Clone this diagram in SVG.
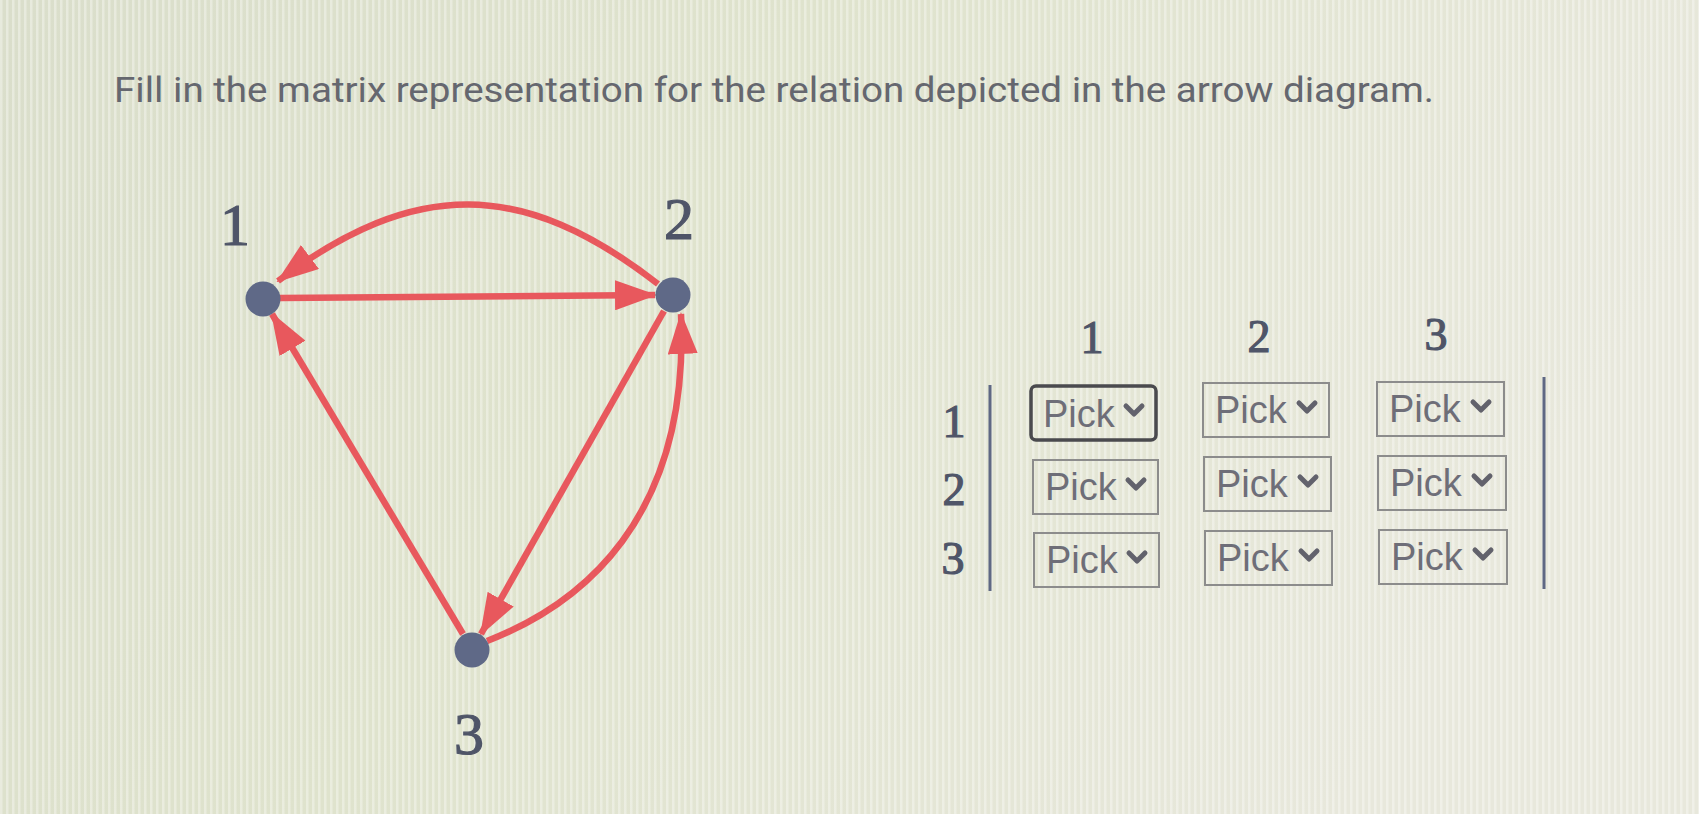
<svg xmlns="http://www.w3.org/2000/svg" width="1699" height="814" viewBox="0 0 1699 814">
  <defs>
    <linearGradient id="bg" x1="0" y1="0" x2="1" y2="0.3">
      <stop offset="0" stop-color="#dadecb"/>
      <stop offset="0.45" stop-color="#dfe3cd"/>
      <stop offset="1" stop-color="#e8e8dc"/>
    </linearGradient>
    <pattern id="stripes" width="6" height="10" patternUnits="userSpaceOnUse">
      <rect x="0" y="0" width="2.5" height="10" fill="#ffffff" opacity="0.35"/>
    </pattern>
    <marker id="arrow" markerUnits="userSpaceOnUse" markerWidth="42" markerHeight="30" viewBox="0 0 42 30" refX="40" refY="15" orient="auto">
      <path d="M0,0 L42,15 L0,30 Z" fill="#e8585d"/>
    </marker>
  </defs>
  <style>
    .title { font-family: Roboto, "Liberation Sans", sans-serif; font-size: 35px; fill: #65676f; }
    .lbl { font-family: "Liberation Serif", "DejaVu Serif", serif; fill: #4f5568; stroke: #4f5568; stroke-width: 1.2; text-anchor: middle; }
    .node { fill: #5f6987; }
    .edge { fill: none; stroke: #e8585d; stroke-width: 6.5; marker-end: url(#arrow); }
    .box { fill: none; stroke: #8c8c8c; stroke-width: 2; }
    .box.focus { stroke: #4a4a4e; stroke-width: 3.5; }
    .pick { font-family: "Liberation Sans", Arial, sans-serif; font-size: 38px; fill: #6e6e78; }
    .chev { fill: none; stroke: #62626c; stroke-width: 5; stroke-linecap: round; stroke-linejoin: round; }
    .bar { stroke: #5f6884; stroke-width: 3; }
  </style>

  <rect width="1699" height="814" fill="url(#bg)"/>
  <rect width="1699" height="814" fill="url(#stripes)"/>

  <text class="title" x="114" y="102" textLength="1320" lengthAdjust="spacingAndGlyphs">Fill in the matrix representation for the relation depicted in the arrow diagram.</text>

  <g id="connectors">
    <line class="edge" x1="280" y1="298" x2="655" y2="295" stroke-width="8"/>
    <path class="edge" d="M658,284 C523,179 415,178 278,281"/>
    <line class="edge" x1="664" y1="311" x2="481" y2="634"/>
    <line class="edge" x1="463" y1="634" x2="272" y2="314"/>
    <path class="edge" d="M487,641 C580,605 690,520 681,314"/>
  </g>

  <g id="node-1">
    <circle class="node" cx="263" cy="299" r="17.5"/>
    <text class="lbl" x="235" y="245" font-size="60">1</text>
  </g>
  <g id="node-2">
    <circle class="node" cx="673" cy="295" r="17.5"/>
    <text class="lbl" x="679" y="239" font-size="60">2</text>
  </g>
  <g id="node-3">
    <circle class="node" cx="472" cy="650" r="17.5"/>
    <text class="lbl" x="469" y="754" font-size="60">3</text>
  </g>

  <g id="matrix">
    <text class="lbl" x="1092" y="353" font-size="46">1</text>
    <text class="lbl" x="1259" y="352" font-size="46">2</text>
    <text class="lbl" x="1436" y="350" font-size="46">3</text>
    <text class="lbl" x="954" y="437" font-size="46">1</text>
    <text class="lbl" x="954" y="505" font-size="46">2</text>
    <text class="lbl" x="953" y="574" font-size="46">3</text>
    <line class="bar" x1="990" y1="385" x2="990" y2="591" stroke-width="2.5"/>
    <line class="bar" x1="1544" y1="377" x2="1544" y2="589"/>

    <g id="cell-1-1">
      <rect class="box focus" x="1031" y="386" width="125" height="54" rx="5"/>
      <text class="pick" x="1043" y="427">Pick</text>
      <path class="chev" d="M1126,406 L1134,414 L1142,406"/>
    </g>
    <g id="cell-1-2">
      <rect class="box" x="1203" y="383" width="126" height="54"/>
      <text class="pick" x="1215" y="423">Pick</text>
      <path class="chev" d="M1299,403 L1307,411 L1315,403"/>
    </g>
    <g id="cell-1-3">
      <rect class="box" x="1377" y="382" width="127" height="54"/>
      <text class="pick" x="1389" y="422">Pick</text>
      <path class="chev" d="M1473,402 L1481,410 L1489,402"/>
    </g>
    <g id="cell-2-1">
      <rect class="box" x="1033" y="460" width="125" height="54"/>
      <text class="pick" x="1045" y="500">Pick</text>
      <path class="chev" d="M1128,480 L1136,488 L1144,480"/>
    </g>
    <g id="cell-2-2">
      <rect class="box" x="1204" y="457" width="127" height="54"/>
      <text class="pick" x="1216" y="497">Pick</text>
      <path class="chev" d="M1300,477 L1308,485 L1316,477"/>
    </g>
    <g id="cell-2-3">
      <rect class="box" x="1378" y="456" width="128" height="54"/>
      <text class="pick" x="1390" y="496">Pick</text>
      <path class="chev" d="M1474,476 L1482,484 L1490,476"/>
    </g>
    <g id="cell-3-1">
      <rect class="box" x="1034" y="533" width="125" height="54"/>
      <text class="pick" x="1046" y="573">Pick</text>
      <path class="chev" d="M1129,553 L1137,561 L1145,553"/>
    </g>
    <g id="cell-3-2">
      <rect class="box" x="1205" y="531" width="127" height="54"/>
      <text class="pick" x="1217" y="571">Pick</text>
      <path class="chev" d="M1301,551 L1309,559 L1317,551"/>
    </g>
    <g id="cell-3-3">
      <rect class="box" x="1379" y="530" width="128" height="54"/>
      <text class="pick" x="1391" y="570">Pick</text>
      <path class="chev" d="M1475,550 L1483,558 L1491,550"/>
    </g>
  </g>
</svg>
